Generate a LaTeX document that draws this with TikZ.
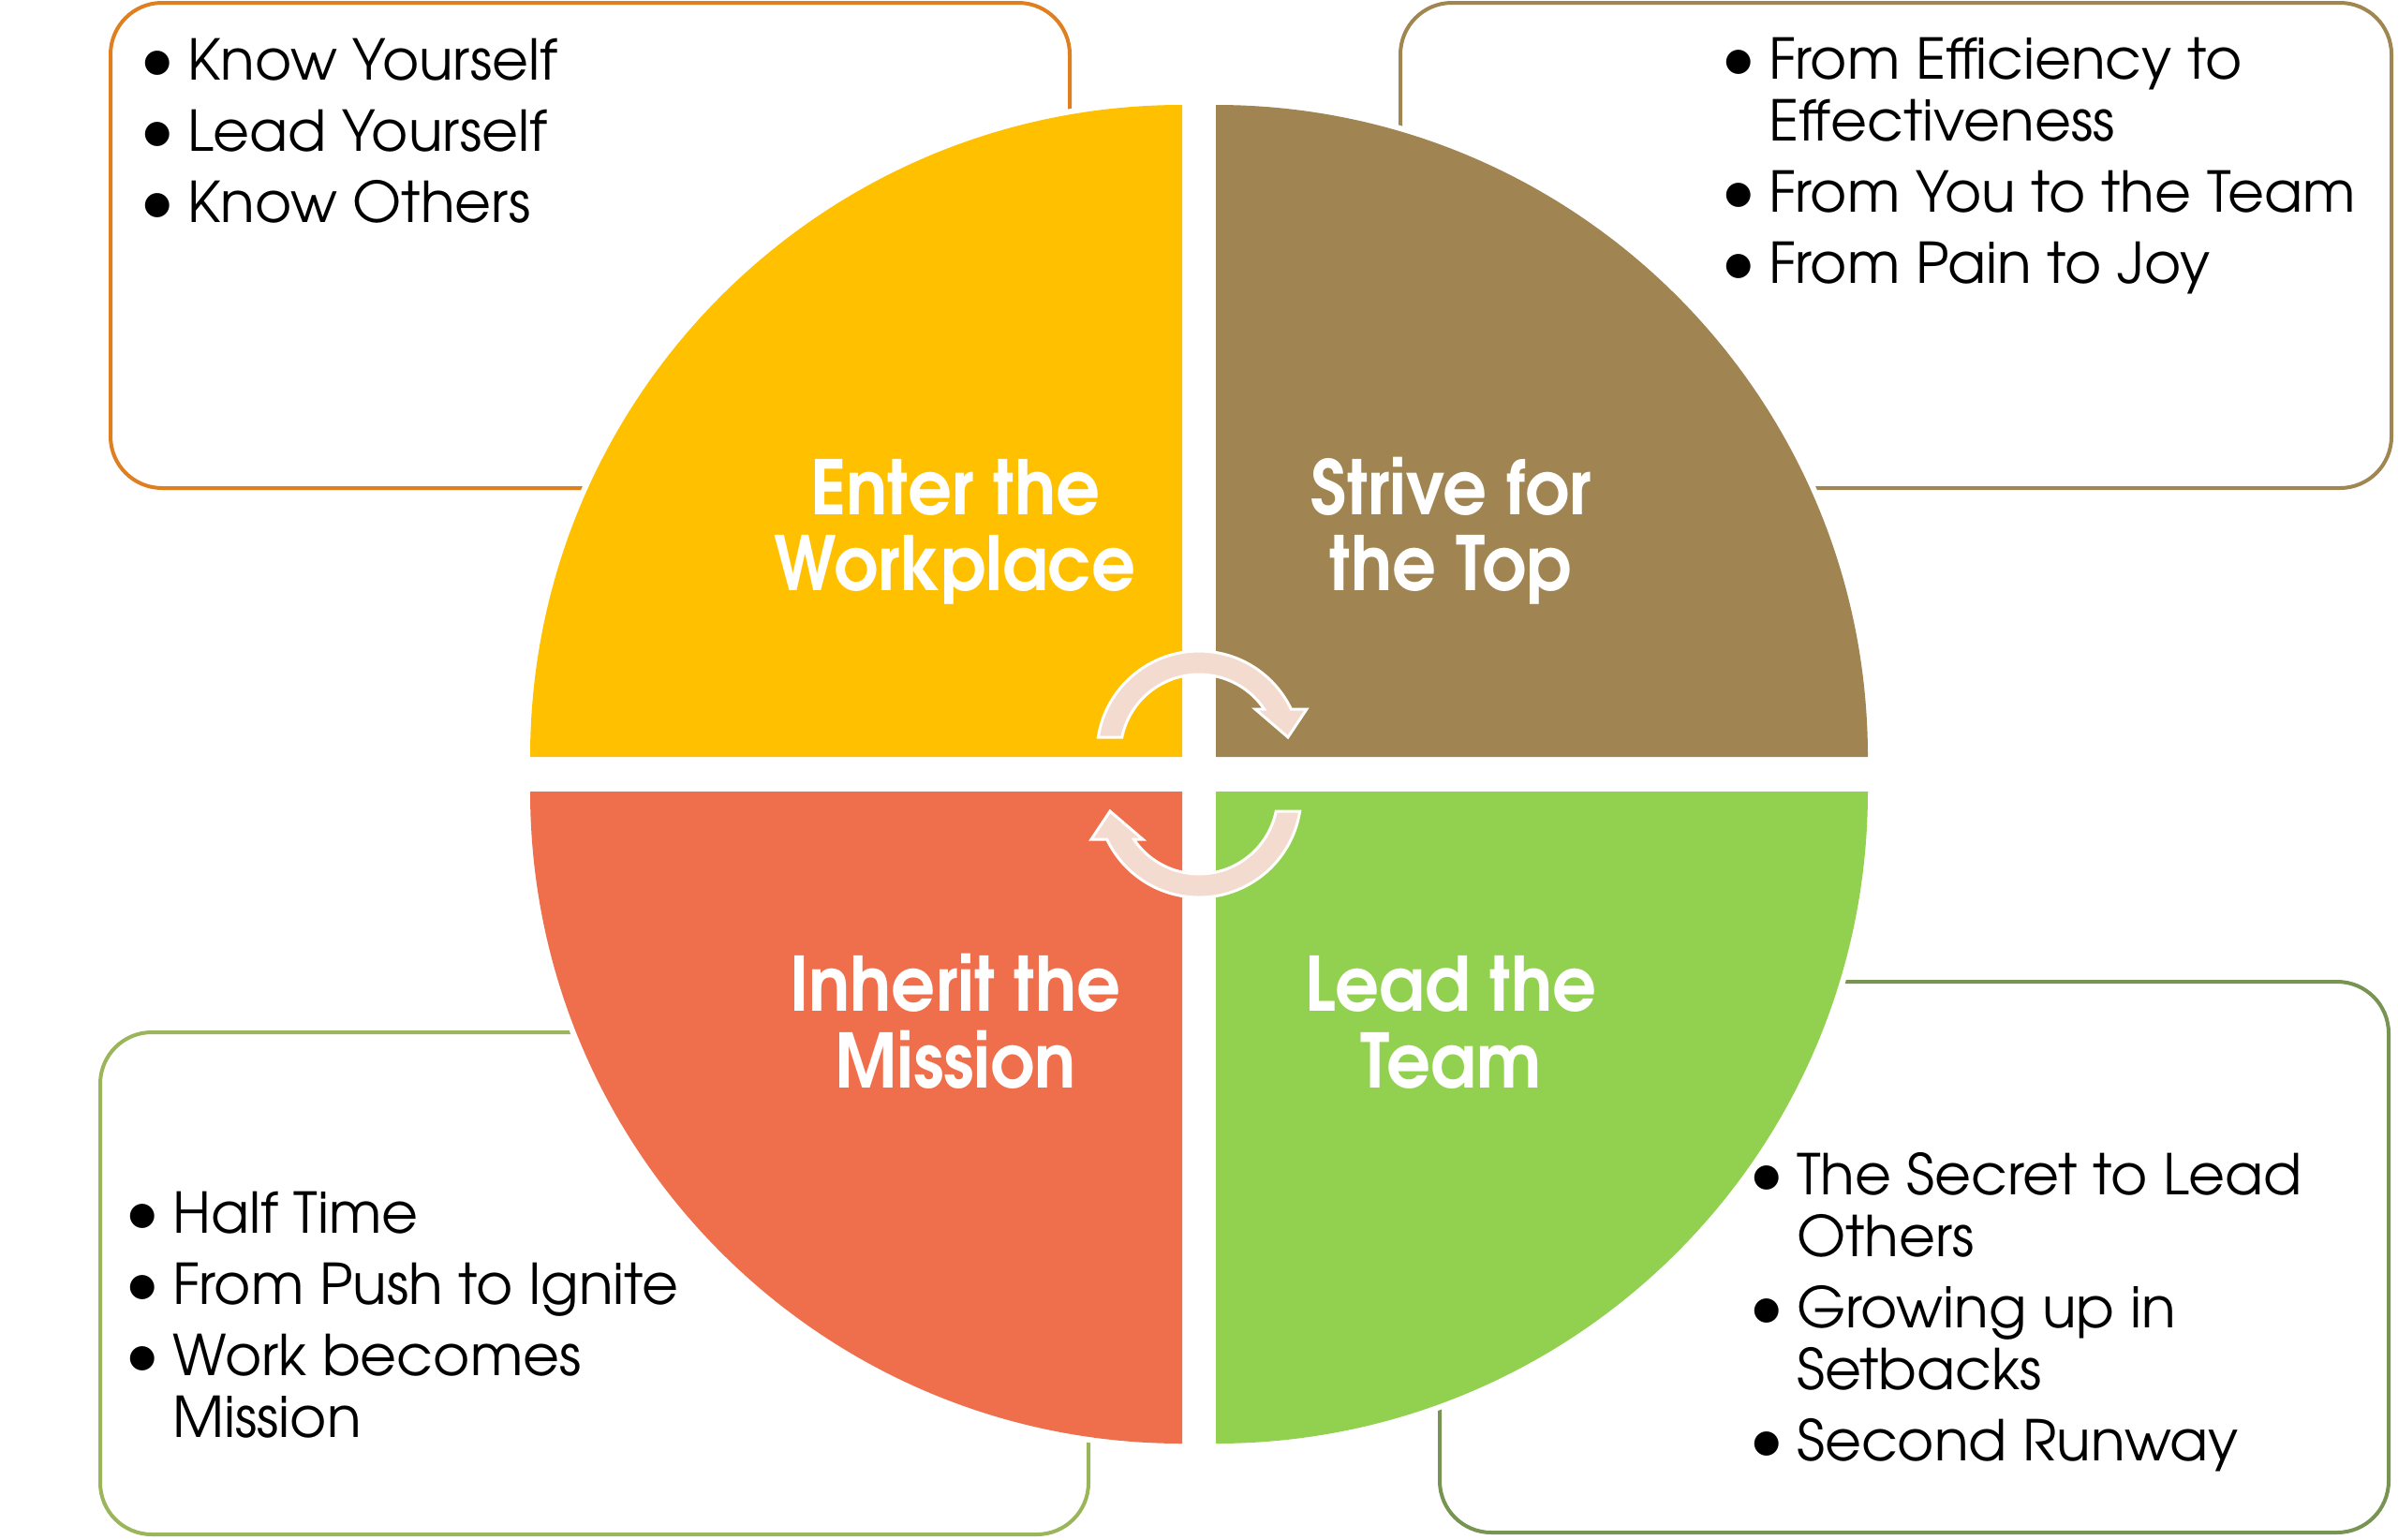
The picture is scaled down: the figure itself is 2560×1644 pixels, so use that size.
\documentclass[tikz,border=0pt]{standalone}
\usepackage{graphicx}
\usepackage{fontspec}
\setmainfont{TeX Gyre Adventor}
\definecolor{qyellow}{HTML}{FFC000}
\definecolor{qbrown}{HTML}{A08451}
\definecolor{qcoral}{HTML}{EF6E4C}
\definecolor{qgreen}{HTML}{92D050}
\definecolor{boxTL}{HTML}{DF7F1F}
\definecolor{boxTR}{HTML}{A08650}
\definecolor{boxBL}{HTML}{9BB55A}
\definecolor{boxBR}{HTML}{789452}
\definecolor{arrowfill}{HTML}{F3DBD0}
\newcommand\bitem{\makebox[36pt][l]{\hspace*{-15pt}{\fontsize{72}{66}\selectfont\textbullet}}}
\newcommand\bcont{\hspace*{36pt}}
\newcommand\ttl[1]{\scalebox{0.92}[1]{#1}}
\begin{document}
\begin{tikzpicture}[x=1pt,y=1pt,
  qd/.style={preaction={draw=white, line width=12pt}},
  infobox/.style={line width=4pt, rounded corners=55pt, fill=white},
  body/.style={anchor=base west, inner sep=0pt, font=\fontsize{60}{66}\selectfont},
  title/.style={anchor=base, inner sep=0pt, text=white, font=\fontsize{80}{81}\selectfont\bfseries},
  cyc/.style={fill=arrowfill, draw=white, line width=3pt, line join=miter}]
\useasboundingbox (0,0) rectangle (2560,-1644);
\fill[white] (0,0) rectangle (2560,-1644);
% side boxes
\draw[infobox, draw=boxTL] (118,-3) rectangle (1142,-521);
\draw[infobox, draw=boxTR] (1495,-3) rectangle (2553,-521);
\draw[infobox, draw=boxBL] (107,-1102) rectangle (1162,-1638);
\draw[infobox, draw=boxBR] (1537,-1048) rectangle (2550,-1636);
% quadrants
\fill[qd, fill=qyellow] (1262,-808) -- (566,-808) arc (180:90:696) -- cycle;
\fill[qd, fill=qbrown] (1298,-808) -- (1298,-112) arc (90:0:696) -- cycle;
\fill[qd, fill=qgreen] (1298,-845) -- (1994,-845) arc (0:-90:696) -- cycle;
\fill[qd, fill=qcoral] (1262,-845) -- (1262,-1541) arc (270:180:696) -- cycle;
% cycle arrows
\filldraw[cyc] ([shift={(1280,-804)}]171.03:109) arc (171.03:25.54:109)
  -- (1395,-757) -- (1375,-787) -- (1340,-757) -- ([shift={(1280,-804)}]34.02:84)
  arc (34.02:168.33:84) -- cycle;
\filldraw[cyc] ([shift={(1280,-849)}]351.03:109) arc (351.03:205.54:109)
  -- (1165,-896) -- (1185,-866) -- (1220,-896) -- ([shift={(1280,-849)}]214.02:84)
  arc (214.02:348.33:84) -- cycle;
% titles
\node[title] (q1a) at (1020,-549) {\ttl{Enter the}};
\node[title] (q1b) at (1020,-630) {\ttl{Workplace}};
\node[title] (q2a) at (1549,-549) {\ttl{Strive for}};
\node[title] (q2b) at (1549,-630) {\ttl{the Top}};
\node[title] (q4a) at (1020,-1079) {\ttl{Inherit the}};
\node[title] (q4b) at (1020,-1161) {\ttl{Mission}};
\node[title] (q3a) at (1549,-1079) {\ttl{Lead the}};
\node[title] (q3b) at (1549,-1161) {\ttl{Team}};
% bullet texts
\node[body] (tltext) at (164,-85) {\begin{tabular}[t]{@{}l@{}}\bitem Know Yourself\\[10pt]\bitem Lead Yourself\\[10pt]\bitem Know Others\end{tabular}};
\node[body] (trtext) at (1852,-84) {\begin{tabular}[t]{@{}l@{}}\bitem From Efficiency to\\\bcont Effectiveness\\[10pt]\bitem From You to the Team\\[10pt]\bitem From Pain to Joy\end{tabular}};
\node[body] (bltext) at (148,-1316) {\begin{tabular}[t]{@{}l@{}}\bitem Half Time\\[10pt]\bitem From Push to Ignite\\[10pt]\bitem Work becomes\\\bcont Mission\end{tabular}};
\node[body] (brtext) at (1882,-1275) {\begin{tabular}[t]{@{}l@{}}\bitem The Secret to Lead\\\bcont Others\\[10pt]\bitem Growing up in\\\bcont Setbacks\\[10pt]\bitem Second Runway\end{tabular}};
\end{tikzpicture}
\end{document}
